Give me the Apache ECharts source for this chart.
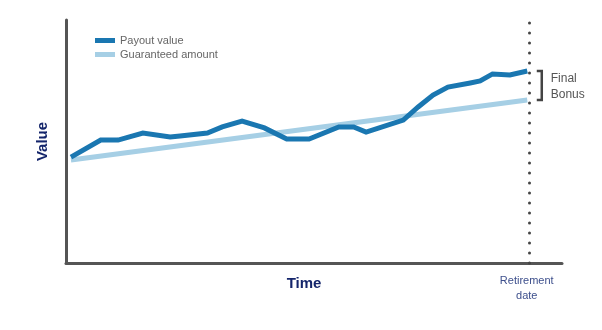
<!DOCTYPE html>
<html><head><meta charset="utf-8">
<script src="https://cdn.jsdelivr.net/npm/echarts@6/dist/echarts.min.js"></script>
<style>html,body{margin:0;padding:0;background:#fff}#c{width:602px;height:330px}</style>
</head><body><div id="c"></div>
<script>
const seriesNames = ['Payout value', 'Guaranteed amount'];
const payoutTime = [1, 7, 10.5, 15.5, 21, 23, 28.5, 31.5, 35.5, 40, 44.5, 49, 55, 58, 60.5, 68, 71, 74, 77, 81.5, 83.5, 86, 89.5, 93];
const payoutValue = [43.6, 50.6, 50.6, 53.5, 51.9, 52.3, 53.5, 56.0, 58.4, 55.6, 51.0, 51.0, 56.0, 56.0, 53.9, 58.8, 64.2, 69.1, 72.4, 74.1, 74.9, 77.8, 77.4, 79.0];
const guaranteedTime = [1, 93];
const guaranteedValue = [42.4, 67.1];
const retirementTime = 93.3;
const axisNames = ['Time', 'Value'];
const retirementLabel = 'Retirement\ndate';
const bonusLabel = 'Final\nBonus';

const chart = echarts.init(document.getElementById('c'), null, {renderer: 'canvas'});
const axisLineStyle = {color: '#555', width: 3};
chart.setOption({
  animation: false,
  grid: {left: 66, right: 40, top: 20, bottom: 67},
  legend: {
    orient: 'vertical', left: 90, top: 30, itemGap: 3,
    itemWidth: 20, itemHeight: 5, icon: 'rect',
    textStyle: {color: '#666', fontSize: 11, fontFamily: 'Liberation Sans, Arial, sans-serif'},
    data: seriesNames
  },
  xAxis: {
    type: 'value', min: 0, max: 100,
    axisLine: {show: true, lineStyle: axisLineStyle},
    axisTick: {show: false}, axisLabel: {show: false}, splitLine: {show: false}
  },
  yAxis: {
    type: 'value', min: 0, max: 100,
    name: axisNames[1], nameLocation: 'middle', nameGap: 16, nameRotate: 90,
    nameTextStyle: {color: '#14256b', fontSize: 15, fontWeight: 'bold', fontFamily: 'Liberation Sans, Arial, sans-serif'},
    axisLine: {show: true, lineStyle: axisLineStyle},
    axisTick: {show: false}, axisLabel: {show: false}, splitLine: {show: false}
  },
  series: [
    {
      name: seriesNames[1], type: 'line', symbol: 'none', z: 2,
      data: guaranteedTime.map((t, i) => [t, guaranteedValue[i]]),
      lineStyle: {color: '#a6cfe5', width: 5}, itemStyle: {color: '#a6cfe5'}
    },
    {
      name: seriesNames[0], type: 'line', symbol: 'none', z: 3,
      data: payoutTime.map((t, i) => [t, payoutValue[i]]),
      lineStyle: {color: '#1a77b1', width: 5, join: 'miter'}, itemStyle: {color: '#1a77b1'},
      markLine: {
        silent: true, symbol: 'none', label: {show: false},
        lineStyle: {color: '#444', width: 3, type: [0.1, 9.9], cap: 'round'},
        data: [{xAxis: retirementTime}]
      }
    }
  ]
});

// annotations positioned from data via the chart's scales
const pEnd = chart.convertToPixel({seriesIndex: 1}, [payoutTime[payoutTime.length-1], payoutValue[payoutValue.length-1]]);
const gEnd = chart.convertToPixel({seriesIndex: 0}, [guaranteedTime[1], guaranteedValue[1]]);
const ret = chart.convertToPixel({seriesIndex: 0}, [retirementTime, 0]);
const xMid = chart.convertToPixel({seriesIndex: 0}, [48, 0]);
const bx = ret[0] + 13;
chart.setOption({
  graphic: [
    {type: 'polyline', shape: {points: [[bx - 5, pEnd[1]], [bx, pEnd[1]], [bx, gEnd[1]], [bx - 5, gEnd[1]]]},
     style: {stroke: '#444', lineWidth: 2.5, fill: null}},
    {type: 'text', left: bx + 9, top: pEnd[1] + 0,
     style: {text: bonusLabel, fill: '#555', fontSize: 12, lineHeight: 16, fontFamily: 'Liberation Sans, Arial, sans-serif'}},
    {type: 'text', x: ret[0] - 2, y: ret[1] + 10,
     style: {text: retirementLabel, fill: '#3d4f8c', fontSize: 11, lineHeight: 15, align: 'center', verticalAlign: 'top', fontFamily: 'Liberation Sans, Arial, sans-serif'}},
    {type: 'text', x: xMid[0], y: ret[1] + 21,
     style: {text: axisNames[0], fill: '#14256b', fontSize: 15, fontWeight: 'bold', align: 'center', verticalAlign: 'middle', fontFamily: 'Liberation Sans, Arial, sans-serif'}}
  ]
});
</script></body></html>
